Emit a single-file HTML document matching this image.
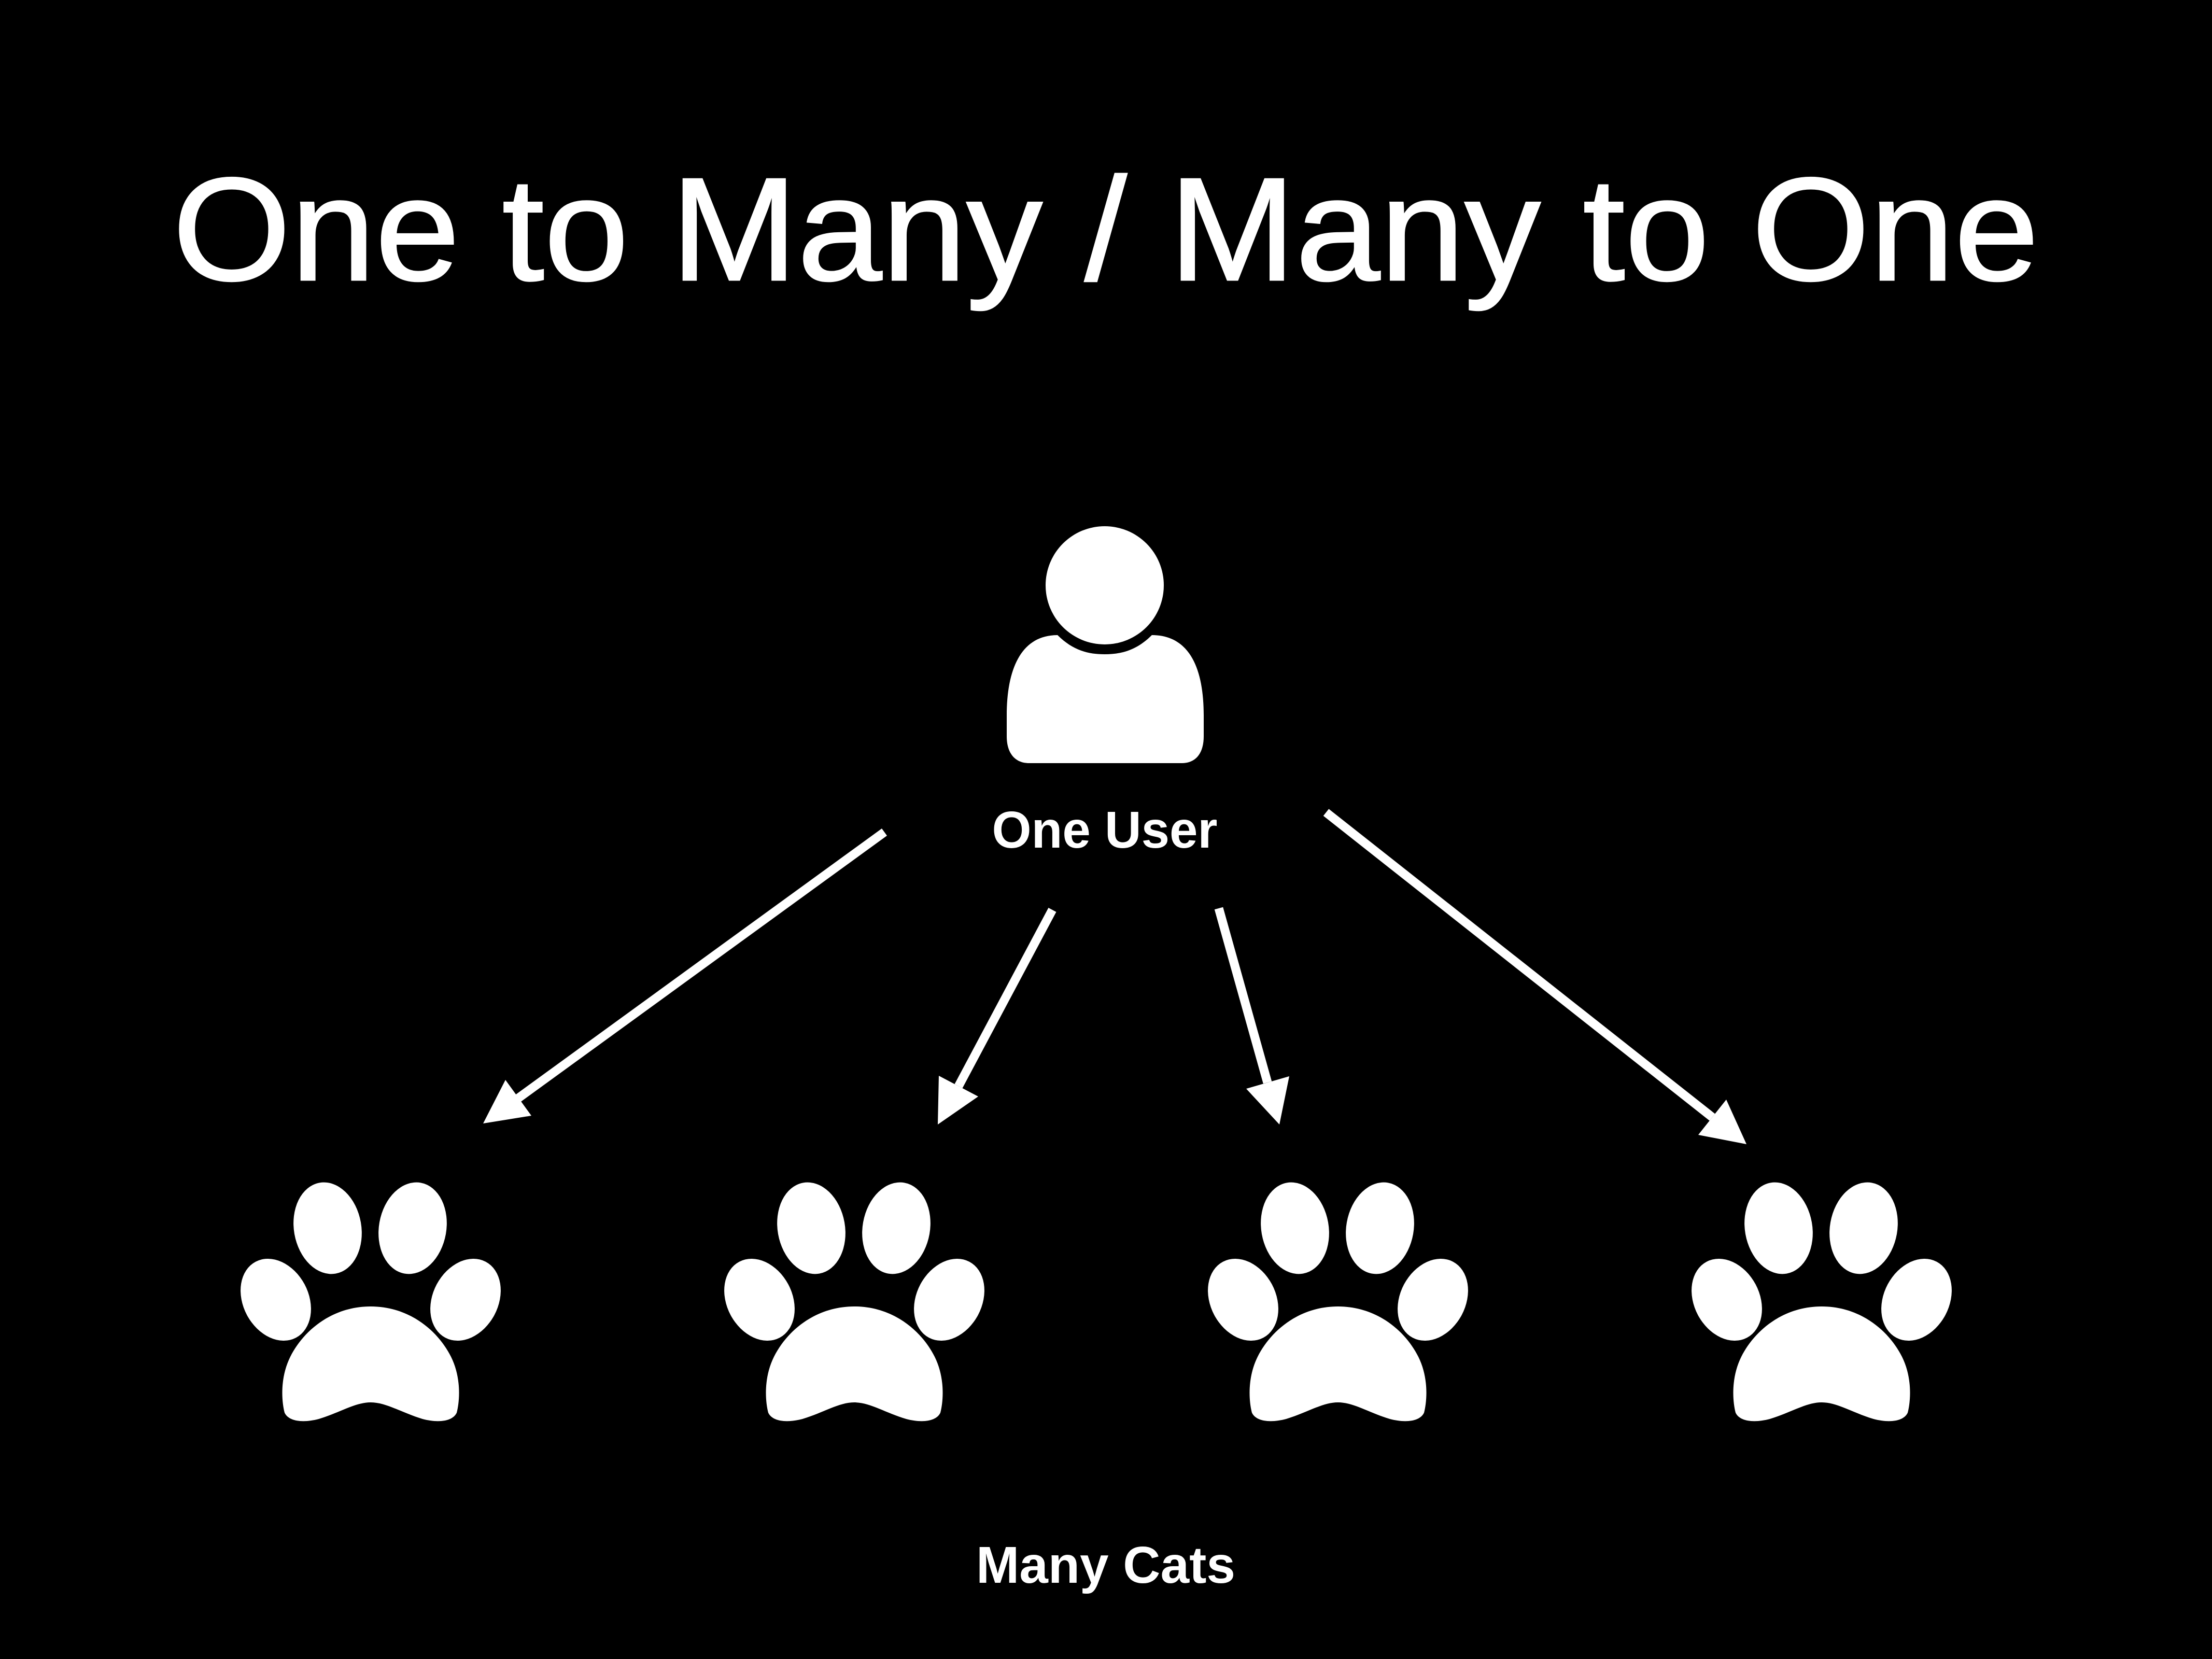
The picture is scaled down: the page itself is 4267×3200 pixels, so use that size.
<!DOCTYPE html>
<html><head><meta charset="utf-8"><style>
html,body{margin:0;padding:0;background:#000;}
svg{display:block;}
</style></head><body>
<svg width="4267" height="3200" viewBox="0 0 4267 3200" xmlns="http://www.w3.org/2000/svg">
<rect width="4267" height="3200" fill="#000"/>
<defs>
<g id="paw">
<ellipse cx="-83" cy="-138" rx="65" ry="89" transform="rotate(-10 -83 -138)" fill="#fff"/>
<ellipse cx="81" cy="-138" rx="65" ry="89" transform="rotate(10 81 -138)" fill="#fff"/>
<ellipse cx="-183" cy="0" rx="63" ry="83" transform="rotate(-28 -183 0)" fill="#fff"/>
<ellipse cx="183" cy="0" rx="63" ry="83" transform="rotate(28 183 0)" fill="#fff"/>
<path d="M0,13 C-75,13 -130,60 -155,110 C-175,150 -172,195 -166,218 C-158,235 -130,238 -100,230 C-60,218 -30,198 0,198 C30,198 60,218 100,230 C130,238 158,235 166,218 C172,195 175,150 155,110 C130,60 75,13 0,13 Z" fill="#fff"/>
</g>
</defs>
<text x="2133" y="540" text-anchor="middle" font-family="'Liberation Sans', sans-serif" font-size="283" fill="#fff" stroke="#fff" stroke-width="3" textLength="3600" lengthAdjust="spacingAndGlyphs">One to Many / Many to One</text>
<!-- user icon -->
<path d="M1942,1380 C1942,1290 1970,1225 2040,1225 C2070,1255 2100,1262 2131,1262 C2162,1262 2192,1255 2222,1225 C2295,1225 2322,1290 2322,1380 L2322,1420 C2322,1455 2305,1472 2280,1472 L1985,1472 C1960,1472 1942,1455 1942,1420 Z" fill="#fff"/>
<circle cx="2131" cy="1129" r="114" fill="#fff"/>
<text x="2131" y="1635" text-anchor="middle" font-family="'Liberation Sans', sans-serif" font-weight="bold" font-size="100" fill="#fff" textLength="435" lengthAdjust="spacingAndGlyphs">One User</text>
<!-- arrows -->
<g stroke="#fff" stroke-width="17" fill="none">
<line x1="1706" y1="1605" x2="1000" y2="2118"/>
<line x1="2030" y1="1755" x2="1849" y2="2095"/>
<line x1="2351" y1="1752" x2="2445" y2="2088"/>
<line x1="2558" y1="1567" x2="3303" y2="2155"/>
</g>
<g fill="#fff">
<polygon points="932,2167 1025,2152 975,2083"/>
<polygon points="1809,2169 1887,2115 1811,2075"/>
<polygon points="2468,2169 2487,2076 2404,2100"/>
<polygon points="3369,2207 3330,2121 3276,2189"/>
</g>
<use href="#paw" x="715" y="2507"/>
<use href="#paw" x="1648" y="2507"/>
<use href="#paw" x="2581" y="2507"/>
<use href="#paw" x="3514" y="2507"/>
<text x="2133" y="3053" text-anchor="middle" font-family="'Liberation Sans', sans-serif" font-weight="bold" font-size="100" fill="#fff" textLength="500" lengthAdjust="spacingAndGlyphs">Many Cats</text>
</svg>
</body></html>
